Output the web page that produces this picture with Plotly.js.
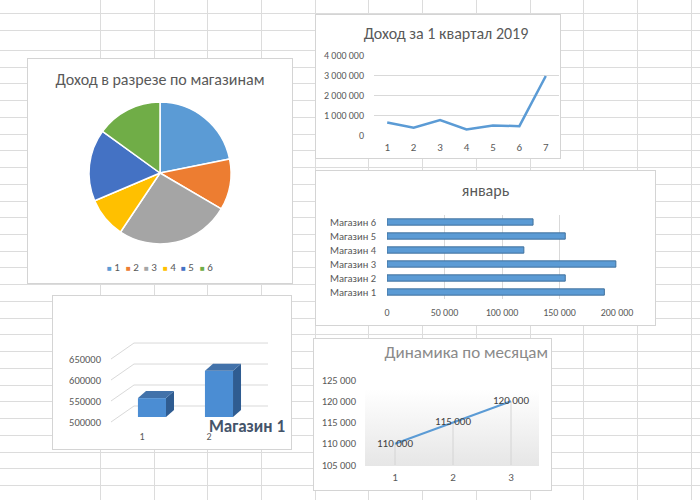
<!DOCTYPE html>
<html><head><meta charset="utf-8">
<script src="https://cdn.plot.ly/plotly-3.0.1.min.js"></script>
<style>
html,body{margin:0;padding:0}
body{width:700px;height:500px;overflow:hidden;background:#fff;position:relative}
.gl{position:absolute;background:#dcdcdc}
.box{position:absolute;background:#fff;border:1px solid #d4d4d4}
.plot{position:absolute;left:0;top:0}
</style></head><body>
<div id="grid"></div>
<div class="box" style="left:27px;top:58px;width:264px;height:224px"><div id="pie" class="plot"></div></div>
<div class="box" style="left:315px;top:14px;width:244px;height:143px"><div id="quarter" class="plot"></div></div>
<div class="box" style="left:315px;top:170px;width:339px;height:154px"><div id="jan" class="plot"></div></div>
<div class="box" style="left:52px;top:295px;width:238px;height:153px"><div id="store" class="plot"></div></div>
<div class="box" style="left:313px;top:338px;width:237px;height:151px">
  <div style="position:absolute;left:51px;top:40px;width:174px;height:87px;background:linear-gradient(to bottom,#ffffff 0%,#ffffff 12%,#e6e6e6 100%)"></div>
  <div id="months" class="plot"></div>
</div>
<script>
// ---------- data ----------
const pieLabels = ['1','2','3','4','5','6'];
const pieValues = [640000, 340000, 760000, 270000, 480000, 440000];
const pieColors = ['#5b9bd5','#ed7d31','#a5a5a5','#ffc000','#4472c4','#70ad47'];

const quarterX = [1,2,3,4,5,6,7];
const quarterY = [620000, 360000, 750000, 280000, 480000, 440000, 2950000];

const janStores = ['Магазин 1','Магазин 2','Магазин 3','Магазин 4','Магазин 5','Магазин 6'];
const janValues = [189000, 155000, 199000, 119000, 155000, 127000];

const storeName = 'Магазин 1';
const storeX = [1, 2];
const storeY = [545000, 610000];
const storeTicks = [500000, 550000, 600000, 650000];

const monthX = [1, 2, 3];
const monthY = [110000, 115000, 120000];

// ---------- background sheet grid ----------
const grid = document.getElementById('grid');
function gl(x, y, w, h){const d=document.createElement('div');d.className='gl';d.style.cssText=`left:${x}px;top:${y}px;width:${w}px;height:${h}px`;grid.appendChild(d);}
for(let x=100; x<700; x+=53.7) gl(Math.round(x),0,1,500);
[13,30].forEach(y=>gl(0,y,700,1));
for(let y=50; y<500; y+=16.73) gl(0,Math.round(y),700,1);

const F = 'Carlito, Calibri, Roboto, sans-serif';
const TXT = '#595959';
const cfg = {staticPlot:true};

// ---------- pie ----------
const pieAnn = pieLabels.map((lab,i)=>({
  xref:'paper', yref:'paper', x:(132 + (i-2.5)*18.5)/264, y:(224-208)/224,
  text:`<span style="color:${pieColors[i]};font-size:8px">■</span> ${lab}`,
  showarrow:false, font:{family:F,size:11,color:TXT}, xanchor:'center', yanchor:'middle'
}));
Plotly.newPlot('pie',[{
  type:'pie', labels:pieLabels, values:pieValues, sort:false, direction:'clockwise', rotation:0,
  marker:{colors:pieColors, line:{color:'#ffffff', width:1.5}}, textinfo:'none', hoverinfo:'none',
  domain:{x:[(132-71)/264,(132+71)/264], y:[(110-71)/224,(110+71)/224]}
}],{
  width:264, height:224, margin:{l:0,r:0,t:0,b:0}, showlegend:false,
  paper_bgcolor:'#fff',
  title:{text:'Доход в разрезе по магазинам', font:{family:F,size:16,color:TXT}, x:0.5, xanchor:'center', xref:'container', y:1-20/224, yanchor:'middle', yref:'container'},
  annotations:pieAnn
},cfg);

// ---------- quarter line ----------
Plotly.newPlot('quarter',[{
  type:'scatter', mode:'lines', x:quarterX, y:quarterY, line:{color:'#5b9bd5', width:2.5}, hoverinfo:'none'
}],{
  width:244, height:143, margin:{l:58,r:1,t:40,b:23}, paper_bgcolor:'#fff', plot_bgcolor:'#fff',
  separators:', ', showlegend:false,
  title:{text:'Доход за 1 квартал 2019', font:{family:F,size:16,color:TXT}, x:130/244, xanchor:'center', xref:'container', y:1-18/143, yanchor:'middle', yref:'container'},
  xaxis:{range:[0.5,7.5], tickvals:quarterX, showgrid:false, zeroline:false, showline:false, ticks:'', ticklabelstandoff:4, tickfont:{family:F,size:11,color:TXT}},
  yaxis:{range:[0,4000000], dtick:1000000, tickformat:',d', gridcolor:'#d9d9d9', zeroline:false, showline:false, ticks:'', ticklabelstandoff:9, tickfont:{family:F,size:10,color:TXT}}
},cfg);

// ---------- january bars ----------
Plotly.newPlot('jan',[{
  type:'bar', orientation:'h', x:janValues, y:janStores, marker:{color:'#5b9bd5', line:{color:'#41719c', width:1}}, hoverinfo:'none'
}],{
  width:339, height:154, margin:{l:71,r:38,t:44,b:26}, paper_bgcolor:'#fff', plot_bgcolor:'#fff',
  separators:', ', showlegend:false, bargap:0.55,
  title:{text:'январь', font:{family:F,size:16,color:TXT}, x:0.5, xanchor:'center', xref:'container', y:1-19/154, yanchor:'middle', yref:'container'},
  xaxis:{range:[0,200000], dtick:50000, tickformat:',d', gridcolor:'#d9d9d9', zeroline:false, showline:false, ticks:'', ticklabelstandoff:6, tickfont:{family:F,size:10,color:TXT}},
  yaxis:{type:'category', showgrid:false, zeroline:false, showline:false, ticks:'', ticklabelstandoff:10, tickfont:{family:F,size:10.5,color:TXT}}
},cfg);

// ---------- 3D-looking store bars ----------
const yRange = [478600, 681000];
const plotH = 153 - 45 - 23;
const u = (yRange[1]-yRange[0]) / plotH;   // value units per pixel
const base = storeTicks[0];
const shapes = [];
storeTicks.forEach(v=>shapes.push({
  type:'path', xref:'paper', xsizemode:'pixel', xanchor:0, yref:'y', ysizemode:'pixel', yanchor:v,
  path:'M0,-5 L23,11 L157,11', line:{color:'#d9d9d9', width:1}, layer:'below'
}));
storeX.forEach((x,i)=>{
  const v = storeY[i];
  shapes.push({type:'path', xref:'x', xsizemode:'pixel', xanchor:x, yref:'y', ysizemode:'scaled',
    path:`M14,${base} L22,${base+7*u} L22,${v+7*u} L14,${v} Z`, fillcolor:'#2f5c91', line:{width:0}});
  shapes.push({type:'path', xref:'x', xsizemode:'pixel', xanchor:x, yref:'y', ysizemode:'pixel', yanchor:v,
    path:'M-14,0 L14,0 L22,7 L-6,7 Z', fillcolor:'#4272aa', line:{width:0}});
});
Plotly.newPlot('store',[{
  type:'bar', x:storeX, y:storeY.map(v=>v-base), base:base, width:0.42, name:storeName,
  marker:{color:'#4b8dd3'}, hoverinfo:'none'
}],{
  width:238, height:153, margin:{l:58,r:23,t:45,b:23}, paper_bgcolor:'rgba(0,0,0,0)', plot_bgcolor:'rgba(0,0,0,0)',
  showlegend:false,
  xaxis:{range:[0.388,2.731], tickvals:storeX, ticktext:storeX.map(String), ticklabelshift:-10, ticklabelstandoff:3, showgrid:false, zeroline:false, showline:false, ticks:'', tickfont:{family:F,size:10,color:TXT}},
  yaxis:{range:yRange, tickvals:storeTicks, tickformat:'d', ticklabelshift:5, ticklabelstandoff:9, showgrid:false, zeroline:false, showline:false, ticks:'', tickfont:{family:F,size:10.5,color:TXT}},
  shapes:shapes,
  annotations:[{xref:'paper', yref:'paper', x:136/157, y:-0.01, text:`<b>${storeName}</b>`, showarrow:false, xanchor:'center', yanchor:'middle', font:{family:F,size:17,color:'#44546a'}}]
},cfg);

// ---------- months line with drop lines ----------
const dropX = [], dropY = [];
monthX.forEach((x,i)=>{dropX.push(x,x,null); dropY.push(monthY[i],105000,null);});
Plotly.newPlot('months',[
  {type:'scatter', mode:'lines', x:dropX, y:dropY, line:{color:'#d4d4d4', width:1}, hoverinfo:'none'},
  {type:'scatter', mode:'lines+text', x:monthX, y:monthY, texttemplate:'%{y:,d}', textposition:'middle center',
   textfont:{family:F,size:11,color:'#404040'}, line:{color:'#5b9bd5', width:2}, hoverinfo:'none'}
],{
  width:237, height:151, margin:{l:52,r:11,t:41,b:25}, paper_bgcolor:'rgba(0,0,0,0)', plot_bgcolor:'rgba(0,0,0,0)',
  separators:', ', showlegend:false,
  title:{text:'Динамика по месяцам', font:{family:F,size:17,color:'#8a8a8a'}, x:234/237, xanchor:'right', xref:'container', y:1-13/151, yanchor:'middle', yref:'container'},
  xaxis:{range:[0.5,3.5], tickvals:monthX, showgrid:false, zeroline:false, showline:false, ticks:'', ticklabelstandoff:4, tickfont:{family:F,size:11,color:TXT}},
  yaxis:{range:[105000,125000], dtick:5000, tickformat:',d', showgrid:false, zeroline:false, showline:false, ticks:'', ticklabelstandoff:9, tickfont:{family:F,size:10.5,color:TXT}}
},cfg);
</script>
</body></html>
